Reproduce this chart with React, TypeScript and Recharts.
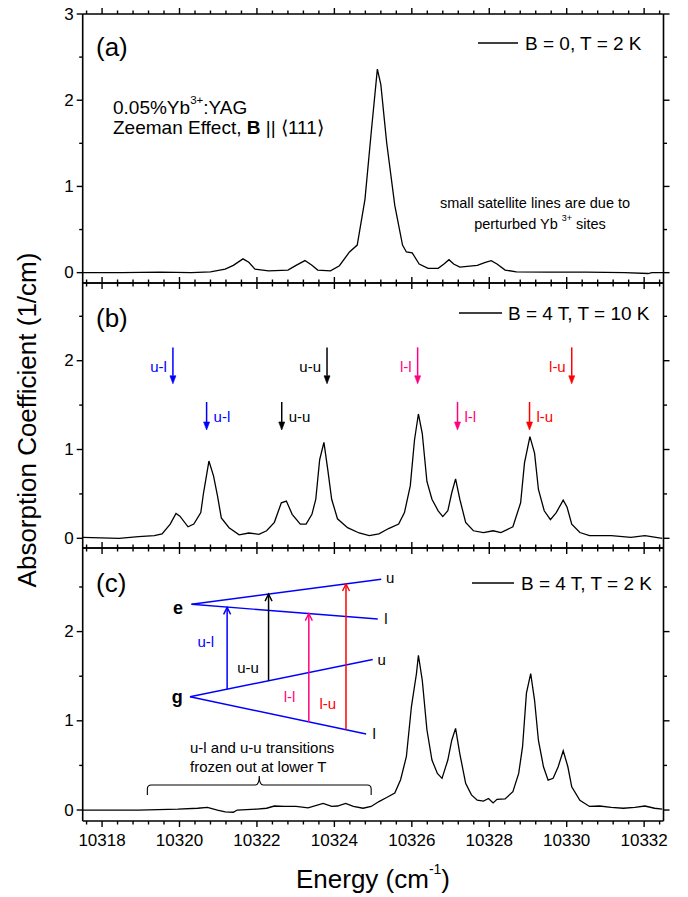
import React from "react";
import { LineChart, Line, XAxis, YAxis, ReferenceLine, ReferenceDot } from "recharts";

const FONT = "'Liberation Sans', Arial, Helvetica, sans-serif";
const W = 688;
const H = 897;
const PLOT_LEFT = 82.7;
const PLOT_RIGHT = 663.5;

const BLUE = "#0000ff";
const PINK = "#ff0080";
const RED = "#ff0000";

// energy axis (cm-1)
const energyDomain = [10317.5, 10332.5];
const energyMajor = [10318, 10320, 10322, 10324, 10326, 10328, 10330, 10332];
const energyMinor = [
  10317.6, 10318.4, 10318.8, 10319.2, 10319.6, 10320.4, 10320.8, 10321.2, 10321.6, 10322.4, 10322.8,
  10323.2, 10323.6, 10324.4, 10324.8, 10325.2, 10325.6, 10326.4, 10326.8, 10327.2, 10327.6, 10328.4,
  10328.8, 10329.2, 10329.6, 10330.4, 10330.8, 10331.2, 10331.6, 10332.4,
];
const energyTicks = [...energyMajor, ...energyMinor].sort((a, b) => a - b);

// (a) B = 0, T = 2 K
const energyA = [
  10317.5, 10318.5, 10319.5, 10320.3, 10320.8, 10321.18, 10321.39, 10321.64, 10321.79, 10321.95, 10322.3,
  10322.8, 10323.01, 10323.24, 10323.42, 10323.57, 10323.9, 10324.13, 10324.39, 10324.59, 10324.79,
  10324.95, 10325.11, 10325.2, 10325.35, 10325.56, 10325.76, 10325.86, 10326.01, 10326.19, 10326.42,
  10326.68, 10326.83, 10326.96, 10327.08, 10327.24, 10327.69, 10327.9, 10328.05, 10328.2, 10328.41,
  10328.7, 10329.5, 10330.5, 10331.5, 10332.1, 10332.2, 10332.5,
];
const absorbA = [
  0, 0, 0.005, 0, 0.01, 0.04, 0.085, 0.16, 0.12, 0.04, 0.02,
  0.03, 0.085, 0.14, 0.085, 0.03, 0.02, 0.08, 0.24, 0.32, 0.85,
  1.62, 2.36, 2.18, 1.51, 0.78, 0.32, 0.24, 0.23, 0.1, 0.05,
  0.05, 0.1, 0.15, 0.1, 0.065, 0.085, 0.12, 0.14, 0.1, 0.03,
  0.01, 0.005, 0.005, 0, -0.01, 0, 0,
];

// (b) B = 4 T, T = 10 K
const energyB = [
  10317.5, 10318.44, 10318.94, 10319.35, 10319.55, 10319.76, 10319.91, 10320.01, 10320.22, 10320.37,
  10320.55, 10320.62, 10320.76, 10320.88, 10320.98, 10321.08, 10321.28, 10321.54, 10321.79, 10322.05,
  10322.25, 10322.45, 10322.63, 10322.76, 10322.91, 10323.12, 10323.27, 10323.42, 10323.52, 10323.62,
  10323.73, 10323.83, 10323.93, 10324.08, 10324.34, 10324.64, 10324.9, 10325.15, 10325.4, 10325.66,
  10325.81, 10325.96, 10326.07, 10326.17, 10326.27, 10326.39, 10326.52, 10326.68, 10326.8, 10326.93,
  10327.03, 10327.13, 10327.24, 10327.39, 10327.59, 10327.85, 10328.1, 10328.3, 10328.61, 10328.81,
  10328.91, 10329.05, 10329.17, 10329.27, 10329.42, 10329.58, 10329.73, 10329.91, 10330.01, 10330.13,
  10330.34, 10330.59, 10331.15, 10331.66, 10332.02, 10332.47,
];
const absorbB = [
  0.01, 0, 0.02, 0.03, 0.05, 0.16, 0.28, 0.25, 0.13, 0.16,
  0.29, 0.51, 0.87, 0.7, 0.48, 0.23, 0.12, 0.04, 0.06, 0.045,
  0.085, 0.18, 0.4, 0.42, 0.27, 0.16, 0.16, 0.27, 0.44, 0.885,
  1.08, 0.77, 0.44, 0.22, 0.12, 0.06, 0.03, 0.05, 0.11, 0.16,
  0.29, 0.59, 1.11, 1.4, 1.18, 0.64, 0.44, 0.31, 0.245, 0.31,
  0.51, 0.67, 0.44, 0.18, 0.085, 0.065, 0.085, 0.065, 0.13, 0.4,
  0.85, 1.145, 0.96, 0.55, 0.31, 0.21, 0.29, 0.43, 0.35, 0.16,
  0.065, 0.03, 0.03, 0.01, 0.03, 0,
];

// (c) B = 4 T, T = 2 K
const energyC = [
  10317.5, 10318.94, 10319.96, 10320.47, 10320.72, 10320.98, 10321.18, 10321.39, 10321.49, 10322.0,
  10322.25, 10322.45, 10322.71, 10323.01, 10323.32, 10323.71, 10323.93, 10324.08, 10324.29, 10324.49,
  10324.74, 10324.95, 10325.15, 10325.35, 10325.56, 10325.71, 10325.86, 10325.99, 10326.12, 10326.17,
  10326.27, 10326.39, 10326.52, 10326.66, 10326.78, 10326.93, 10327.03, 10327.13, 10327.24, 10327.39,
  10327.54, 10327.69, 10327.85, 10327.98, 10328.1, 10328.2, 10328.41, 10328.61, 10328.76, 10328.86,
  10328.96, 10329.07, 10329.17, 10329.27, 10329.4, 10329.52, 10329.65, 10329.78, 10329.91, 10330.03,
  10330.13, 10330.34, 10330.59, 10330.85, 10331.15, 10331.46, 10331.76, 10332.02, 10332.27, 10332.47,
];
const absorbC = [
  0, 0, 0.01, 0.02, 0.03, 0, -0.02, -0.025, 0, 0.01,
  0.02, 0.045, 0.04, 0.04, 0.025, 0.075, 0.04, 0.045, 0.075, 0.04,
  0.02, 0.04, 0.095, 0.14, 0.19, 0.34, 0.6, 1.16, 1.53, 1.735,
  1.455, 0.9, 0.56, 0.41, 0.355, 0.56, 0.78, 0.915, 0.63, 0.3,
  0.17, 0.11, 0.1, 0.13, 0.08, 0.12, 0.125, 0.205, 0.41, 0.71,
  1.31, 1.53, 1.23, 0.78, 0.485, 0.335, 0.355, 0.485, 0.665, 0.485,
  0.26, 0.11, 0.04, 0.045, 0.03, 0.02, 0.03, 0.045, 0.02, 0.01,
];

// transition markers
const transitionNames = ["u-l", "u-u", "l-l", "l-u"];
const transitionColors = [BLUE, "#000000", PINK, RED];
const arrowUpperEnergy = [10319.83, 10323.81, 10326.15, 10330.13];
const arrowLowerEnergy = [10320.7, 10322.64, 10327.18, 10329.04];

// level diagram in (c): [E start, y start, E end, y end]
const levelLines = [
  [10320.31, 2.306, 10325.21, 2.586],
  [10320.31, 2.306, 10325.12, 2.141],
  [10320.27, 1.27, 10324.99, 1.687],
  [10320.27, 1.27, 10324.82, 0.852],
];
const levelLabelPos = [
  [10325.44, 2.61],
  [10325.33, 2.15],
  [10325.22, 1.69],
  [10325.03, 0.86],
];
const levelLabels = ["u", "l", "u", "l"];
const diagramArrowEnergy = [10321.23, 10322.3, 10323.34, 10324.3];
const diagramArrowFrom = [1.353, 1.449, 0.988, 0.9];
const diagramArrowTo = [2.272, 2.42, 2.202, 2.534];
const diagramLabelPos = [
  [10320.68, 1.89],
  [10321.77, 1.6],
  [10322.84, 1.27],
  [10323.83, 1.19],
];

const frame = { stroke: "#000", strokeWidth: 1.6 };

const xTick = (side: "top" | "bottom", labels: boolean) => (p: any) => {
  const v = p.payload.value;
  const major = energyMajor.includes(v);
  const len = major ? 6 : 3.5;
  const dir = side === "top" ? -1 : 1;
  return (
    <g>
      <line x1={p.x} x2={p.x} y1={p.y} y2={p.y + dir * len} stroke="#000" strokeWidth={1.4} />
      {labels && major && (
        <text x={p.x} y={p.y + 19} textAnchor="middle" dominantBaseline="central" fontSize={17} fontFamily={FONT} fill="#000">
          {v}
        </text>
      )}
    </g>
  );
};

const yTick = (side: "left" | "right", majors: number[]) => (p: any) => {
  const v = p.payload.value;
  const major = majors.includes(v);
  const len = major ? 6 : 3.5;
  const dir = side === "left" ? -1 : 1;
  return (
    <g>
      <line x1={p.x} x2={p.x + dir * len} y1={p.y} y2={p.y} stroke="#000" strokeWidth={1.4} />
      {side === "left" && major && (
        <text x={p.x - 9} y={p.y} textAnchor="end" dominantBaseline="central" fontSize={17} fontFamily={FONT} fill="#000">
          {v}
        </text>
      )}
    </g>
  );
};

const arrowShape = (color: string, open: boolean) => (p: any) => {
  const { x1, y1, x2, y2 } = p;
  const dx = x2 - x1;
  const dy = y2 - y1;
  const L = Math.hypot(dx, dy) || 1;
  const ux = dx / L;
  const uy = dy / L;
  const hl = open ? 7 : 8;
  const hw = open ? 3.5 : 3;
  const bx = x2 - ux * hl;
  const by = y2 - uy * hl;
  const px = -uy * hw;
  const py = ux * hw;
  return (
    <g>
      <line x1={x1} y1={y1} x2={open ? x2 : bx} y2={open ? y2 : by} stroke={color} strokeWidth={1.5} />
      {open ? (
        <polyline points={`${bx + px},${by + py} ${x2},${y2} ${bx - px},${by - py}`} fill="none" stroke={color} strokeWidth={1.4} />
      ) : (
        <polygon points={`${bx + px},${by + py} ${x2},${y2} ${bx - px},${by - py}`} fill={color} stroke={color} strokeWidth={0.6} />
      )}
    </g>
  );
};

const braceShape = (p: any) => {
  const { x1, y1, x2 } = p;
  const xm = (x1 + x2) / 2;
  const r = 4;
  const d = `M${x1},${y1 + 10} L${x1},${y1 + r} Q${x1},${y1} ${x1 + r},${y1} L${xm - r},${y1} Q${xm},${y1} ${xm},${y1 - 9} Q${xm},${y1} ${xm + r},${y1} L${x2 - r},${y1} Q${x2},${y1} ${x2},${y1 + r} L${x2},${y1 + 10}`;
  return <path d={d} fill="none" stroke="#000" strokeWidth={1.1} />;
};

function textDot(key: string, x: number, y: number, text: string, color: string, anchor: string, dx: number, size: number, bold = false) {
  return (
    <ReferenceDot
      key={key}
      xAxisId="b"
      yAxisId="l"
      x={x}
      y={y}
      r={0}
      shape={(p: any) => (
        <text
          x={p.cx + dx}
          y={p.cy}
          fill={color}
          fontSize={size}
          fontWeight={bold ? "bold" : "normal"}
          textAnchor={anchor}
          dominantBaseline="central"
          fontFamily={FONT}
        >
          {text}
        </text>
      )}
    />
  );
}

function Panel(props: {
  top: number;
  bottom: number;
  yDomain: number[];
  yMajor: number[];
  yMinor: number[];
  energy: number[];
  absorb: number[];
  xLabels: boolean;
  children?: React.ReactNode;
}) {
  const { top, bottom, yDomain, yMajor, yMinor, energy, absorb, xLabels, children } = props;
  const rows = energy.map((e, i) => ({ e, k: absorb[i] }));
  const yTicks = [...yMajor, ...yMinor].sort((a, b) => a - b);
  return (
    <div style={{ position: "absolute", left: 0, top: 0 }}>
      <LineChart
        width={W}
        height={H}
        data={rows}
        margin={{ top: top - 1, bottom: H - bottom - 1, left: PLOT_LEFT - 1, right: W - PLOT_RIGHT - 1 }}
      >
        <XAxis xAxisId="b" dataKey="e" type="number" domain={energyDomain} ticks={energyTicks} interval={0} height={1}
          tickSize={0} tickMargin={0} tickLine={false} axisLine={frame} tick={xTick("bottom", xLabels)} allowDataOverflow />
        <XAxis xAxisId="t" orientation="top" dataKey="e" type="number" domain={energyDomain} ticks={energyTicks} interval={0}
          height={1} tickSize={0} tickMargin={0} tickLine={false} axisLine={frame} tick={xTick("top", false)} allowDataOverflow />
        <YAxis yAxisId="l" type="number" domain={yDomain} ticks={yTicks} interval={0} width={1} tickSize={0} tickMargin={0}
          tickLine={false} axisLine={frame} tick={yTick("left", yMajor)} allowDataOverflow />
        <YAxis yAxisId="r" orientation="right" type="number" domain={yDomain} ticks={yTicks} interval={0} width={1} tickSize={0}
          tickMargin={0} tickLine={false} axisLine={frame} tick={yTick("right", yMajor)} allowDataOverflow />
        <Line xAxisId="b" yAxisId="l" dataKey="k" type="linear" stroke="#000" strokeWidth={1.3} dot={false} isAnimationActive={false} />
        {children}
      </LineChart>
    </div>
  );
}

export default function App() {
  return (
    <div style={{ position: "absolute", left: 0, top: 0, width: W, height: H, background: "#fff", fontFamily: FONT }}>
      <Panel top={14} bottom={283} yDomain={[-0.12, 3]} yMajor={[0, 1, 2, 3]} yMinor={[0.5, 1.5, 2.5]}
        energy={energyA} absorb={absorbA} xLabels={false} />

      <Panel top={283} bottom={548} yDomain={[-0.109, 2.875]} yMajor={[0, 1, 2]} yMinor={[0.5, 1.5, 2.5]}
        energy={energyB} absorb={absorbB} xLabels={false}>
        {arrowUpperEnergy.map((e, i) => (
          <ReferenceLine key={`ua${i}`} xAxisId="b" yAxisId="l" segment={[{ x: e, y: 2.15 }, { x: e, y: 1.74 }]}
            shape={arrowShape(transitionColors[i], false)} />
        ))}
        {arrowUpperEnergy.map((e, i) => textDot(`ut${i}`, e, 1.933, transitionNames[i], transitionColors[i], "end", -6, 15))}
        {arrowLowerEnergy.map((e, i) => (
          <ReferenceLine key={`la${i}`} xAxisId="b" yAxisId="l" segment={[{ x: e, y: 1.535 }, { x: e, y: 1.22 }]}
            shape={arrowShape(transitionColors[i], false)} />
        ))}
        {arrowLowerEnergy.map((e, i) => textDot(`lt${i}`, e, 1.368, transitionNames[i], transitionColors[i], "start", 7, 15))}
      </Panel>

      <Panel top={548} bottom={821} yDomain={[-0.123, 2.937]} yMajor={[0, 1, 2]} yMinor={[0.5, 1.5, 2.5]}
        energy={energyC} absorb={absorbC} xLabels={true}>
        {levelLines.map((s, i) => (
          <ReferenceLine key={`lv${i}`} xAxisId="b" yAxisId="l" segment={[{ x: s[0], y: s[1] }, { x: s[2], y: s[3] }]}
            stroke={BLUE} strokeWidth={1.4} />
        ))}
        {levelLabelPos.map((q, i) => textDot(`ll${i}`, q[0], q[1], levelLabels[i], "#000", "middle", 0, 15))}
        {textDot("e", 10319.96, 2.27, "e", "#000", "middle", 0, 18, true)}
        {textDot("g", 10319.94, 1.262, "g", "#000", "middle", 0, 18, true)}
        {diagramArrowEnergy.map((e, i) => (
          <ReferenceLine key={`da${i}`} xAxisId="b" yAxisId="l"
            segment={[{ x: e, y: diagramArrowFrom[i] }, { x: e, y: diagramArrowTo[i] }]}
            shape={arrowShape(transitionColors[i], true)} />
        ))}
        {diagramLabelPos.map((q, i) => textDot(`dl${i}`, q[0], q[1], transitionNames[i], transitionColors[i], "middle", 0, 15))}
        <ReferenceLine xAxisId="b" yAxisId="l" segment={[{ x: 10319.17, y: 0.28 }, { x: 10324.95, y: 0.28 }]} shape={braceShape} />
      </Panel>

      <svg width={W} height={H} style={{ position: "absolute", left: 0, top: 0, pointerEvents: "none" }} fontFamily={FONT}>
        {/* panel letters */}
        <text x={96} y={47} fontSize={26} dominantBaseline="central">(a)</text>
        <text x={96} y={318} fontSize={26} dominantBaseline="central">(b)</text>
        <text x={96} y={583} fontSize={26} dominantBaseline="central">(c)</text>

        {/* legends */}
        <line x1={478} x2={518} y1={43} y2={43} stroke="#000" strokeWidth={1.3} />
        <text x={525} y={43} fontSize={19} dominantBaseline="central">B = 0, T = 2 K</text>
        <line x1={459} x2={502} y1={313} y2={313} stroke="#000" strokeWidth={1.3} />
        <text x={508} y={313} fontSize={19} dominantBaseline="central">B = 4 T, T = 10 K</text>
        <line x1={472} x2={514} y1={583} y2={583} stroke="#000" strokeWidth={1.3} />
        <text x={521} y={583} fontSize={19} dominantBaseline="central">B = 4 T, T = 2 K</text>

        {/* panel (a) notes */}
        <text x={113} y={107} fontSize={19} dominantBaseline="central">
          0.05%Yb<tspan dy={-7} fontSize={11.5}>3+</tspan><tspan dy={7}>:YAG</tspan>
        </text>
        <text x={113} y={127} fontSize={19} dominantBaseline="central">
          Zeeman Effect, <tspan fontWeight="bold">B</tspan> || ⟨111⟩
        </text>
        <text x={535} y={203} fontSize={14.5} textAnchor="middle" dominantBaseline="central">small satellite lines are due to</text>
        <text x={540} y={224} fontSize={14.5} textAnchor="middle" dominantBaseline="central">
          perturbed Yb <tspan dy={-6} fontSize={9}>3+</tspan><tspan dy={6}> sites</tspan>
        </text>

        {/* panel (c) note */}
        <text x={190} y={747} fontSize={15} dominantBaseline="central">u-l and u-u transitions</text>
        <text x={190} y={766} fontSize={15} dominantBaseline="central">frozen out at lower T</text>

        {/* axis titles */}
        <text x={373} y={879} fontSize={26} textAnchor="middle" dominantBaseline="central">
          Energy (cm<tspan dy={-10} fontSize={14}>-1</tspan><tspan dy={10}>)</tspan>
        </text>
        <text x={27} y={420} fontSize={26} textAnchor="middle" dominantBaseline="central" transform="rotate(-90 27 420)">
          Absorption Coefficient (1/cm)
        </text>
      </svg>
    </div>
  );
}
